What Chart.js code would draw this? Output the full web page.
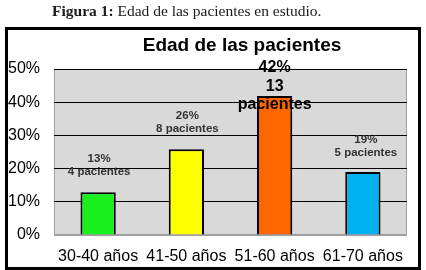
<!DOCTYPE html>
<html>
<head>
<meta charset="utf-8">
<script src="https://cdn.jsdelivr.net/npm/chart.js@4.4.1/dist/chart.umd.min.js"></script>
<style>
  html, body { margin: 0; padding: 0; background: #fff; }
  canvas { display: block; }
</style>
</head>
<body>
<canvas id="edadChart" width="426" height="270"></canvas>
<script>
// Data
var categories = ["30-40 años", "41-50 años", "51-60 años", "61-70 años"];
var percentValues = [12.9, 25.8, 41.9, 19.0];
var percentLabels = ["13%", "26%", "42%", "19%"];
var patientCounts = [4, 8, 13, 5];
var yTicks = [0, 10, 20, 30, 40, 50];

// Bar colours
var barColors = ["#19f01e", "#ffff00", "#ff6600", "#00b0f0"];

// Label styles per bar (the big one is wrapped by Excel)
var labelStyles = [
    { size: 11.5, color: "#333333", lineH: 13, gap: 20, dx: 1, wrap: false },
    { size: 11.5, color: "#333333", lineH: 13, gap: 21, dx: 1, wrap: false },
    { size: 16, color: "#000000", lineH: 18.5, gap: -9, dx: 0, wrap: true },
    { size: 11.5, color: "#333333", lineH: 13, gap: 19, dx: 3, wrap: false }
];

// Caption, outer frame, plot background and title
var framePlugin = {
    id: "frame",
    beforeDraw: function (chart) {
        var c = chart.ctx;
        var a = chart.chartArea;
        c.save();
        c.fillStyle = "#fff";
        c.fillRect(0, 0, chart.width, chart.height);

        // caption above the box
        c.fillStyle = "#1a1a1a";
        c.textBaseline = "middle";
        c.textAlign = "left";
        c.font = "bold 15.5px 'Liberation Serif', 'DejaVu Serif', serif";
        var bold = "Figura 1:";
        c.fillText(bold, 52, 12);
        var w = c.measureText(bold + " ").width;
        c.font = "15.5px 'Liberation Serif', 'DejaVu Serif', serif";
        c.fillText("Edad de las pacientes en estudio.", 52 + w, 12);

        // box
        c.strokeStyle = "#000";
        c.lineWidth = 3;
        c.strokeRect(6.5, 28.5, 413, 240);

        // plot area
        c.fillStyle = "#d9d9d9";
        c.fillRect(a.left, a.top, a.right - a.left, a.bottom - a.top);
        c.strokeStyle = "#a0a0a0";
        c.lineWidth = 1;
        c.strokeRect(a.left + 0.5, a.top + 0.5, a.right - a.left - 1, a.bottom - a.top - 1);

        // title
        c.fillStyle = "#000";
        c.textAlign = "center";
        c.font = "bold 19px 'Liberation Sans', Arial, sans-serif";
        c.fillText("Edad de las pacientes", 242, 46);
        c.restore();
    },
    afterDatasetsDraw: function (chart) {
        var c = chart.ctx;
        var bars = chart.getDatasetMeta(0).data;
        c.save();
        c.textAlign = "center";
        c.textBaseline = "middle";
        bars.forEach(function (bar, i) {
            var s = labelStyles[i];
            var lines = s.wrap
                ? [percentLabels[i], String(patientCounts[i]), "pacientes"]
                : [percentLabels[i], patientCounts[i] + " pacientes"];
            c.font = "bold " + s.size + "px 'Liberation Sans', Arial, sans-serif";
            c.fillStyle = s.color;
            var lastY = bar.y - s.gap;
            lines.forEach(function (t, k) {
                c.fillText(t, bar.x + s.dx, lastY - (lines.length - 1 - k) * s.lineH);
            });
        });
        c.restore();
    }
};

var ctx = document.getElementById("edadChart").getContext("2d");

var edadChart = new Chart(ctx, {
    type: "bar",
    data: {
        labels: categories,
        datasets: [{
            data: percentValues,
            backgroundColor: barColors,
            borderColor: "#000000",
            borderWidth: 2,
            barPercentage: 0.4,
            categoryPercentage: 1.0
        }]
    },
    options: {
        responsive: false,
        animation: false,
        layout: {
            padding: { left: 8, right: 19, top: 69, bottom: 0 }
        },
        scales: {
            x: {
                grid: { display: false },
                border: { display: false },
                ticks: {
                    color: "#000",
                    padding: 4,
                    maxRotation: 0,
                    font: { family: "'Liberation Sans', Arial, sans-serif", size: 16 }
                },
                afterFit: function (scale) { scale.height = 35; }
            },
            y: {
                min: 0,
                max: 50,
                afterBuildTicks: function (scale) {
                    scale.ticks = yTicks.map(function (v) { return { value: v }; });
                },
                grid: {
                    drawTicks: false,
                    color: function (c) { return c.tick.value === 0 ? "#a0a0a0" : "#000000"; },
                    lineWidth: 1
                },
                border: { display: false },
                ticks: {
                    color: "#000",
                    padding: 14,
                    font: { family: "'Liberation Sans', Arial, sans-serif", size: 16 },
                    callback: function (v) { return v + "%"; }
                },
                afterFit: function (scale) { scale.width = 46; }
            }
        },
        plugins: {
            legend: { display: false },
            title: { display: false },
            tooltip: { enabled: false }
        }
    },
    plugins: [framePlugin]
});
</script>
</body>
</html>
